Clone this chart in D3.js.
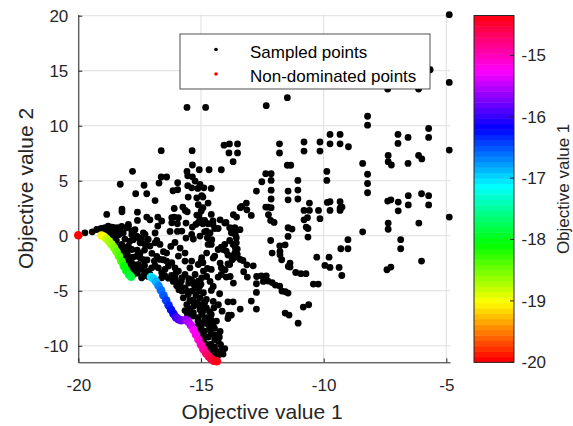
<!DOCTYPE html>
<html>
<head>
<meta charset="utf-8">
<script src="https://cdn.jsdelivr.net/npm/d3@7"></script>
<style>
  body { margin: 0; background: #fff; }
  svg { display: block; font-family: "Liberation Sans", Arial, Helvetica, sans-serif; }
</style>
</head>
<body>
<div id="chart"></div>
<script>
// sampled (dominated) points: [objective 1, objective 2]
const sampledPoints = [
  [-4.88,20.09],[-4.88,13.94],[-4.88,7.79],[-4.88,1.70],
  [-15.57,11.66],[-14.81,11.66],[-11.48,12.55],[-12.34,11.82],[-7.39,13.34],[-6.13,13.34],[-5.66,15.09],
  [-8.21,10.86],[-8.21,10.05],[-5.72,9.75],[-5.72,8.94],[-6.97,9.21],[-6.97,8.39],[-6.56,8.94],
  [-9.74,9.21],[-9.33,9.21],[-10.15,8.52],[-9.74,8.36],[-9.33,8.36],[-8.99,8.09],[-10.80,8.52],[-10.80,7.70],[-10.15,7.70],
  [-11.80,8.36],[-11.80,7.52],[-14.06,8.23],[-13.84,8.35],[-13.51,8.35],[-13.86,7.53],[-13.51,7.53],[-13.69,6.73],
  [-16.62,7.73],[-15.36,7.73],[-11.48,6.41],[-11.34,6.41],[-15.35,6.43],[-15.57,5.85],[-15.35,5.36],
  [-15.07,6.0],[-14.67,6.0],[-14.17,6.0],[-17.79,5.86],[-16.62,5.34],[-16.40,5.34],
  [-8.41,6.57],[-8.21,5.59],[-8.21,4.75],[-8.21,3.91],[-7.37,7.30],[-7.37,6.73],[-7.24,6.43],[-6.56,6.57],[-6.13,7.30],[-6.0,6.98],
  [-9.87,5.85],[-9.87,5.03],[-12.14,5.64],[-12.36,5.64],[-12.14,5.03],[-12.52,4.91],[-12.74,4.06],
  [-12.14,4.14],[-12.14,3.34],[-12.14,2.55],[-12.27,2.61],[-12.36,2.61],[-11.45,4.06],[-11.45,3.27],
  [-11.05,5.03],[-11.05,4.15],[-11.05,3.34],[-10.58,2.97],[-10.80,2.30],[-10.66,1.64],[-10.58,2.30],[-10.80,1.45],
  [-10.71,0.79],[-10.64,0.66],[-10.64,-0.12],[-11.45,0.73],[-11.29,0.61],[-11.45,-0.06],[-10.21,2.30],[-10.15,1.55],
  [-9.85,3.03],[-9.74,3.09],[-9.33,3.09],[-9.33,2.52],[-9.25,2.61],[-9.33,2.30],[-9.74,2.30],
  [-7.39,3.15],[-7.26,3.27],[-6.96,3.06],[-6.96,2.27],[-6.55,3.64],[-6.55,2.80],[-6.01,3.82],[-5.72,3.64],[-5.72,2.80],
  [-6.12,1.15],[-8.41,0.36],[-7.37,1.15],[-7.37,0.59],[-9.01,-0.36],[-9.01,-1.18],[-9.30,-1.18],[-9.78,-1.95],
  [-9.95,-2.70],[-9.74,-2.88],[-9.37,-2.88],[-9.26,-3.61],[-6.86,-0.36],[-6.86,-1.18],[-6.01,-2.30],[-7.42,-3.09],[-7.26,-2.85],
  [-10.28,-1.95],[-10.42,-4.39],[-10.22,-4.39],[-10.83,-6.48],[-10.61,-6.27],[-11.04,-7.94],[-11.57,-7.03],[-11.41,-7.21],
  [-11.14,-3.34],[-10.93,-3.45],[-10.72,-3.45],[-11.44,-2.79],[-11.37,-2.85],[-11.57,-0.82],[-11.71,-2.18],[-11.78,-1.73],[-11.79,-0.91],
  [-12.16,1.39],[-12.02,1.21],[-12.16,-0.43],[-12.10,-1.57],[-12.95,1.85],[-13.40,2.55],[-13.15,2.97],[-13.55,1.70],
  [-12.54,-3.64],[-12.34,-3.64],[-12.27,-4.12],[-12.10,-4.25],[-11.97,-4.48],[-11.79,-4.57],[-11.70,-5.03],[-11.56,-5.09],[-11.45,-5.21],
  [-12.74,-4.36],[-12.74,-5.15],[-12.74,-6.66],[-12.95,-5.94],[-13.40,-6.66],[-13.11,-3.75],[-13.26,-3.27],
  [-13.40,-2.15],[-13.29,-2.25],[-13.52,-1.70],[-13.62,-1.55],[-13.73,-2.18],[-13.90,-2.55],[-13.83,-2.61],
  [-13.60,-1.09],[-13.52,-1.21],[-13.69,-0.79],[-13.56,-0.64],[-13.83,-0.43],[-14.03,-0.79],[-14.17,-1.03],[-14.30,-1.25],[-14.44,-1.85],
  [-14.10,-1.25],[-13.97,-1.39],[-13.90,-1.75],[-13.76,-1.85],[-13.65,-2.0],
  [-13.62,0.73],[-13.65,0.27],[-13.56,-0.18],[-13.60,0.12],[-13.83,0.73],[-13.76,0.57],[-13.76,0.27],
  [-14.03,1.15],[-14.30,0.66],[-14.44,0.66],[-14.51,1.03],[-14.71,1.09],[-14.85,1.39],[-14.92,1.09],
  [-14.78,0.43],[-14.85,0.36],[-14.74,-0.18],[-14.58,-0.79],[-14.71,-0.79],
  [-14.92,2.55],[-14.71,2.97],[-14.92,3.52],[-14.88,4.36],[-14.58,4.30],[-15.13,4.30],
  [-14.58,1.94],[-14.51,1.34],[-15.05,1.48],[-15.12,1.18],[-14.99,2.25],
  [-14.17,-2.91],[-14.30,-3.75],[-14.17,-3.52],[-13.97,-3.75],[-14.74,-2.97],[-14.58,-3.06],[-14.99,-2.30],[-14.92,-2.45],
  [-14.58,-4.97],[-14.24,-5.27],[-14.78,-5.79],[-14.85,-6.09],[-15.05,-4.57],[-15.12,-4.43],
  [-13.90,-6.0],[-13.69,-6.0],[-14.14,-6.85],[-13.87,-7.21],[-13.76,-7.21],[-13.90,-7.52],
  [-14.47,-6.55],[-14.58,-7.15],[-14.78,-7.45],[-14.71,-8.06],[-14.85,-8.66],[-14.51,-8.06],[-14.37,-7.75],
  [-14.58,-8.91],[-14.44,-9.43],[-14.30,-9.57],[-14.03,-10.25],[-14.17,-10.48],[-14.37,-10.48],[-14.60,-9.88],
  [-14.99,-6.25],[-14.92,-6.85],[-14.78,-6.55],[-15.12,-7.75],[-14.99,-8.21],[-14.85,-9.27],[-14.78,-9.88],[-14.64,-10.64],[-14.51,-10.94],
  [-14.22,-8.70],[-14.50,-5.97],[-14.29,-6.27],[-14.83,-7.64],[-15.04,-6.73],[-15.17,-6.12],[-15.31,-5.82],[-14.28,-10.82],
  [-18.29,4.68],[-17.32,4.59],[-17.66,3.82],[-17.21,3.82],[-16.87,3.20],[-15.95,4.82],[-16.14,4.09],[-15.95,4.18],[-15.52,3.52],
  [-18.84,1.94],[-18.22,2.43],[-18.22,2.18],[-17.59,2.14],[-17.21,1.70],[-16.09,2.48],[-16.09,1.70],[-15.64,2.30],[-15.56,2.18],[-15.17,1.88],[-15.08,1.88],
  [-16.71,4.79],[-15.54,5.45],[-14.97,3.64],[-15.11,2.82],[-17.59,1.39],[-17.08,1.45],[-16.80,-0.43],[-16.26,0.39],[-15.96,0.39],[-15.96,1.09],
  [-15.61,1.15],[-15.61,-0.21],[-15.31,-0.30],[-16.87,0.25],[-15.74,2.61],[-14.63,0.25],[-14.56,-0.36],[-14.22,1.45],[-13.98,1.21],
  [-13.41,0.55],[-13.13,2.36],[-13.34,2.66],[-13.68,1.91],[-13.13,-2.64],[-12.87,-2.73],[-12.46,-4.15],[-12.25,1.91],[-11.78,-1.43],[-11.37,-2.48],[-12.73,-3.70],
  [-19.73,0.27],[-19.43,0.36],[-19.25,0.57],[-19.07,0.66],[-18.91,0.73],[-18.78,0.88],[-18.71,0.57],[-18.64,0.79],[-18.53,0.73],[-18.48,0.48],
  [-18.61,0.36],[-18.39,0.73],[-18.30,0.43],[-18.78,0.27],[-18.94,0.43],[-18.57,-0.06],[-18.17,0.25],[-17.82,0.09],[-17.69,0.55],[-17.96,0.85],
  [-18.23,0.85],[-17.96,1.03],[-18.03,0.73],[-17.82,0.43],[-17.62,-0.03],[-17.35,0.27],[-17.28,0.12],[-16.76,0.88],[-15.35,0.79],[-15.21,1.03],[-15.04,-0.03],
  [-16.76,1.70],[-16.60,1.34],[-15.54,4.55],[-15.38,4.36],[-15.24,4.97],[-15.92,1.64],[-16.19,1.64],[-15.78,0.43],[-16.19,1.18],[-15.38,0.12],[-15.17,3.45],[-15.04,4.66],
  [-18.23,-0.79],[-18.10,-1.09],[-17.96,-0.94],[-17.82,-1.25],[-18.10,-1.85],[-17.89,-2.0],[-17.76,-1.94],[-17.62,-1.85],[-17.48,-2.0],[-17.76,-2.61],
  [-17.55,-2.61],[-17.42,-3.06],[-17.62,-3.06],[-17.28,-3.36],[-17.15,-3.21],[-17.01,-2.91],[-16.87,-2.75],[-16.74,-2.91],[-16.60,-3.36],[-16.47,-3.06],
  [-16.33,-2.75],[-16.40,-2.30],[-16.67,-2.15],[-16.53,-1.45],[-16.67,-0.79],[-16.87,-0.64],[-17.08,-0.94],[-17.28,-0.79],[-17.48,-0.64],[-17.55,-0.18],
  [-17.42,-0.34],[-17.15,-0.34],[-18.03,-1.27],[-17.82,-2.48],[-17.89,-3.09],[-18.30,-1.57],[-17.76,-0.36],[-17.48,-1.57],[-17.35,-2.18],[-17.15,-3.70],
  [-16.53,-2.18],[-16.40,-1.57],[-16.80,-1.88],[-16.23,-0.97],[-16.06,-0.61],[-15.85,-1.12],[-15.65,-1.57],[-17.76,-3.52],[-17.42,-3.82],
  [-18.45,-0.40],[-18.40,-1.00],[-18.20,-1.30],[-18.00,-1.70],[-18.00,-2.30],[-17.90,-2.60],[-17.70,-2.90],[-17.60,-3.40],[-17.30,-2.70],
  [-17.20,-2.20],[-17.60,-1.30],[-17.90,-0.50],[-18.35,0.10],[-18.70,0.10],[-18.10,-0.30],[-17.30,-1.30],[-17.00,-1.60],[-16.90,-2.30],
  [-16.19,-2.45],[-16.06,-2.91],[-15.92,-3.21],[-15.78,-3.82],[-15.65,-3.52],[-16.06,-3.82],[-15.85,-4.43],[-15.65,-4.73],[-15.52,-5.34],[-15.38,-5.03],
  [-15.24,-4.73],[-15.11,-4.12],[-14.97,-3.82],[-14.90,-3.21],[-15.24,-3.52],[-15.45,-2.91],[-15.65,-2.30],[-15.92,-1.85],[-15.38,-2.30],[-15.11,-2.61],[-14.97,-2.0],
  [-15.72,-5.64],[-15.58,-6.25],[-15.45,-6.70],[-15.31,-7.0],[-15.17,-6.25],[-15.04,-5.64],[-14.90,-5.18],[-14.90,-6.25],[-14.97,-7.15],[-15.11,-7.45],[-15.78,-5.03],
  [-15.99,-4.55],[-16.13,-4.15],[-16.33,-3.85],[-16.47,-3.64],[-15.38,-4.0],[-16.02,-3.39],[-14.77,-3.70],[-14.63,-4.15],[-14.50,-4.61],[-14.77,-1.57],
  [-14.50,-2.03],[-14.22,-2.48],[-14.02,-3.09],[-13.81,-3.70],[-13.68,-4.30],[-17.08,-3.52],[-17.35,-3.66],[-16.60,-3.82],[-15.31,-7.30],
  [-15.50,-4.30],[-15.60,-5.00],[-15.45,-5.90],[-15.30,-6.40],[-15.20,-5.40],[-15.10,-5.00],[-15.00,-4.40],[-15.30,-4.40],[-15.90,-4.90],
  [-15.80,-4.10],[-15.65,-6.80],[-15.55,-7.20],[-16.05,-4.05],[-16.20,-3.60],[-15.50,-3.90],
  [-15.00,-8.60],[-14.95,-9.00],[-14.70,-9.20],[-14.65,-8.50],[-14.45,-8.40],[-14.40,-9.00],[-14.25,-9.20],[-14.20,-9.90],[-14.45,-10.10],
  [-14.55,-10.30],[-14.35,-11.00],[-14.10,-10.75],[-14.80,-10.30],[-14.90,-9.60],[-15.20,-8.30],[-15.05,-7.90],[-14.60,-7.60],[-14.90,-7.90],[-14.65,-6.90]
];

// non-dominated points (Pareto front)
const frontPoints = [
  [-20.0,0.05],
  [-19.05,0.03],[-18.95,-0.09],[-18.85,-0.27],[-18.75,-0.50],[-18.65,-0.77],[-18.54,-1.09],[-18.44,-1.45],
  [-18.34,-1.86],[-18.24,-2.32],[-18.14,-2.77],[-18.04,-3.18],[-17.93,-3.55],[-17.85,-3.72],
  [-17.04,-3.75],[-16.93,-3.91],[-16.83,-4.18],[-16.73,-4.55],[-16.63,-4.95],[-16.53,-5.41],[-16.42,-5.86],
  [-16.32,-6.32],[-16.22,-6.73],[-16.12,-7.09],[-16.02,-7.41],[-15.92,-7.59],[-15.81,-7.68],
  [-15.61,-7.64],[-15.51,-7.82],[-15.41,-8.14],[-15.30,-8.55],[-15.20,-9.0],[-15.10,-9.45],[-15.0,-9.91],
  [-14.90,-10.32],[-14.79,-10.68],[-14.69,-10.95],[-14.59,-11.18],[-14.49,-11.35],[-14.35,-11.41]
];

const xTicks = [-20, -15, -10, -5];
const yTicks = [-10, -5, 0, 5, 10, 15, 20];
const colorTicks = [-20, -19, -18, -17, -16, -15];
const legendLabels = ["Sampled points", "Non-dominated points"];

const width = 573, height = 426;
const ink = "#262626";

const svg = d3.select("#chart").append("svg")
  .attr("width", width)
  .attr("height", height);

const x = d3.scaleLinear().domain([-20, -4.85]).range([78.3, 450]);
const y = d3.scaleLinear().domain([-11.5, 20.1]).range([362.3, 14.6]);

// hsv colormap, 64 levels like matlab
const cExtent = d3.extent(frontPoints, d => d[0]);
const nLevels = 64;
function hsvColor(v) {
  const t = (v - cExtent[0]) / (cExtent[1] - cExtent[0]);
  const idx = Math.max(0, Math.min(nLevels - 1, Math.floor(t * nLevels)));
  return d3.hsl(idx / nLevels * 360, 1, 0.5).toString();
}

// grid
svg.append("g").selectAll("line").data(xTicks).join("line")
  .attr("x1", d => x(d)).attr("x2", d => x(d))
  .attr("y1", y.range()[0]).attr("y2", y.range()[1])
  .attr("stroke", "#dfdfdf").attr("stroke-width", 1);
svg.append("g").selectAll("line").data(yTicks).join("line")
  .attr("x1", x.range()[0]).attr("x2", x.range()[1])
  .attr("y1", d => y(d)).attr("y2", d => y(d))
  .attr("stroke", "#dfdfdf").attr("stroke-width", 1);

// axes
const xAxis = svg.append("g")
  .attr("transform", `translate(0,${y.range()[0]})`)
  .call(d3.axisBottom(x).tickValues(xTicks).tickFormat(d => String(d))
    .tickSizeInner(-4).tickSizeOuter(0).tickPadding(17));
const yAxis = svg.append("g")
  .attr("transform", `translate(${x.range()[0]},0)`)
  .call(d3.axisLeft(y).tickValues(yTicks).tickFormat(d => String(d))
    .tickSizeInner(-4).tickSizeOuter(0).tickPadding(10));
[xAxis, yAxis].forEach(g => {
  g.select(".domain").attr("stroke", ink).attr("stroke-width", 1);
  g.selectAll(".tick line").attr("stroke", ink);
  g.selectAll(".tick text").attr("fill", ink).attr("font-size", 17)
    .attr("font-family", "Liberation Sans, Arial, sans-serif");
});

// sampled points
svg.append("g").selectAll("circle").data(sampledPoints).join("circle")
  .attr("cx", d => x(d[0]))
  .attr("cy", d => y(d[1]))
  .attr("r", 3.4)
  .attr("fill", "#000");

// pareto front coloured by objective 1
svg.append("g").selectAll("circle").data(frontPoints).join("circle")
  .attr("cx", d => x(d[0]))
  .attr("cy", d => y(d[1]))
  .attr("r", 4.3)
  .attr("fill", d => hsvColor(d[0]));

// axis labels
svg.append("text")
  .attr("x", (x.range()[0] + x.range()[1]) / 2 - 2)
  .attr("y", 419)
  .attr("text-anchor", "middle")
  .attr("font-size", 21)
  .attr("fill", ink)
  .text("Objective value 1");
svg.append("text")
  .attr("transform", `translate(33,${(y.range()[0] + y.range()[1]) / 2}) rotate(-90)`)
  .attr("text-anchor", "middle")
  .attr("font-size", 21)
  .attr("fill", ink)
  .text("Objective value 2");

// legend
const legend = svg.append("g");
legend.append("rect")
  .attr("x", 180).attr("y", 34).attr("width", 250).attr("height", 55)
  .attr("fill", "#fff").attr("stroke", ink).attr("stroke-width", 0.8);
legend.selectAll("circle").data(legendLabels).join("circle")
  .attr("cx", 216)
  .attr("cy", (d, i) => 49.5 + i * 24.5)
  .attr("r", 1.8)
  .attr("fill", (d, i) => i === 0 ? "#000" : "#ff0000");
legend.selectAll("text").data(legendLabels).join("text")
  .attr("x", 250)
  .attr("y", (d, i) => 57.5 + i * 24)
  .attr("font-size", 17)
  .attr("fill", "#000")
  .text(d => d);

// colorbar
const cb = { x: 474, w: 40 };
const cScale = d3.scaleLinear().domain(cExtent).range([362.3, 15.5]);
const bands = d3.range(nLevels);
const step = (cExtent[1] - cExtent[0]) / nLevels;
svg.append("g").selectAll("rect").data(bands).join("rect")
  .attr("x", cb.x)
  .attr("width", cb.w)
  .attr("y", i => cScale(cExtent[0] + (i + 1) * step))
  .attr("height", i => cScale(cExtent[0] + i * step) - cScale(cExtent[0] + (i + 1) * step) + 0.5)
  .attr("fill", i => hsvColor(cExtent[0] + (i + 0.5) * step));
svg.append("rect")
  .attr("x", cb.x).attr("y", cScale.range()[1])
  .attr("width", cb.w).attr("height", cScale.range()[0] - cScale.range()[1])
  .attr("fill", "none").attr("stroke", ink).attr("stroke-width", 1);
const cbAxis = svg.append("g");
cbAxis.selectAll("line").data(colorTicks).join("line")
  .attr("x1", cb.x + cb.w - 4).attr("x2", cb.x + cb.w)
  .attr("y1", d => cScale(d)).attr("y2", d => cScale(d))
  .attr("stroke", ink);
cbAxis.selectAll("text").data(colorTicks).join("text")
  .attr("x", cb.x + cb.w + 7.5)
  .attr("y", d => cScale(d))
  .attr("dy", "0.35em")
  .attr("font-size", 17)
  .attr("fill", ink)
  .text(d => String(d));
svg.append("text")
  .attr("transform", `translate(569,${(cScale.range()[0] + cScale.range()[1]) / 2}) rotate(-90)`)
  .attr("text-anchor", "middle")
  .attr("font-size", 17)
  .attr("fill", ink)
  .text("Objective value 1");
</script>
</body>
</html>
